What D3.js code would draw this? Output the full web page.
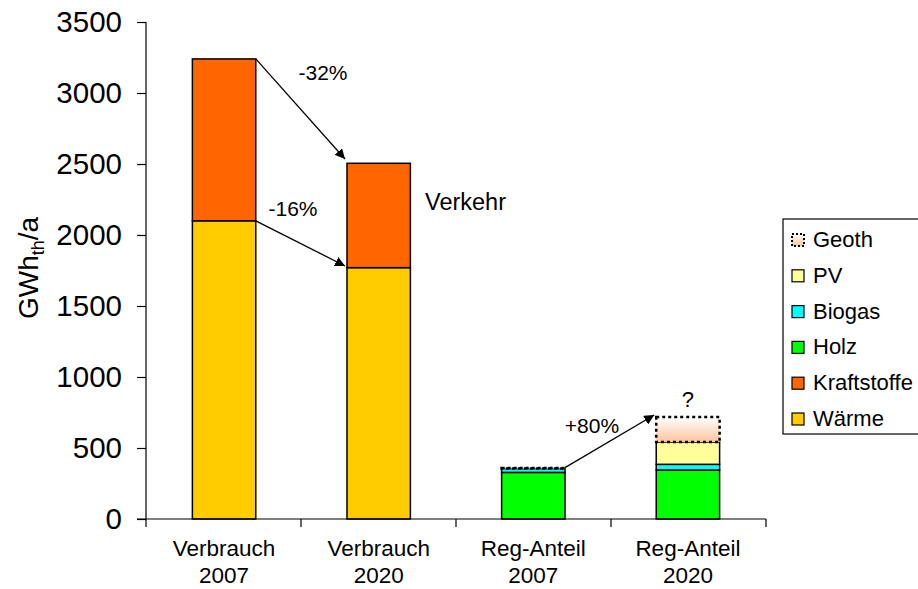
<!DOCTYPE html>
<html><head><meta charset="utf-8">
<script src="https://cdn.jsdelivr.net/npm/d3@7"></script>
<style>body{margin:0;background:#fff;} text{font-family:"Liberation Sans",Arial,sans-serif;}</style>
</head><body><svg id="c" width="918" height="589"></svg>
<script>
const categories = ["Verbrauch\n2007","Verbrauch\n2020","Reg-Anteil\n2007","Reg-Anteil\n2020"];
const seriesNames = ["Wärme","Kraftstoffe","Holz","Biogas","PV","Geoth"];
const waerme      = [2100, 1770, 0, 0];
const kraftstoffe = [1140, 735, 0, 0];
const holz        = [0, 0, 328, 345];
const biogas      = [0, 0, 27, 40];
const pv          = [0, 0, 0, 157];
const geoth       = [0, 0, 5, 176];
const yTicks = [0,500,1000,1500,2000,2500,3000,3500];
const colors = {"Wärme":"#FFCC00","Kraftstoffe":"#FF6600","Holz":"#00FF00","Biogas":"#00FFFF","PV":"#FFFF99","Geoth":"url(#geoGrad)"};
// annotations: [category, value]
const arrowFrom = [[0,3240],[0,2100],[2,362]];
const arrowTo   = [[1,2535],[1,1782],[3,732]];
const arrowLabels = ["-32%","-16%","+80%"];

const svg = d3.select("#c");
const defs = svg.append("defs");
const g0 = defs.append("linearGradient").attr("id","geoGrad").attr("x1",0).attr("y1",0).attr("x2",0).attr("y2",1);
g0.append("stop").attr("offset","0%").attr("stop-color","#ffffff");
g0.append("stop").attr("offset","100%").attr("stop-color","#FBC39C");
defs.append("marker").attr("id","ah").attr("viewBox","0 0 10 10").attr("refX",10).attr("refY",5)
  .attr("markerWidth",10).attr("markerHeight",10).attr("markerUnits","userSpaceOnUse").attr("orient","auto")
  .append("path").attr("d","M0,0L10,5L0,10Z").attr("fill","#000");

const pL=146, pR=766, pT=22, pB=519;
const x = d3.scaleBand().domain(categories).range([pL,pR]).paddingInner(0.59).paddingOuter(0.3);
const y = d3.scaleLinear().domain([0,3500]).range([pB,pT]);

const rows = categories.map((c,i)=>({cat:c,"Wärme":waerme[i],"Kraftstoffe":kraftstoffe[i],"Holz":holz[i],"Biogas":biogas[i],"PV":pv[i],"Geoth":geoth[i]}));
const stack = d3.stack().keys(seriesNames)(rows);

// Bars
stack.forEach(layer=>{
  const key = layer.key;
  svg.append("g").selectAll("rect").data(layer.filter(d=>d[1]-d[0]>0)).join("rect")
    .attr("x",d=>x(d.data.cat)).attr("width",x.bandwidth())
    .attr("y",d=>y(d[1])).attr("height",d=>y(d[0])-y(d[1]))
    .attr("fill",colors[key])
    .attr("stroke",key==="Geoth"?"none":"#000").attr("stroke-width",1.5);
});
// Geoth dotted outline
const geoLayer = stack.find(l=>l.key==="Geoth");
svg.append("g").selectAll("rect").data(geoLayer.filter(d=>d[1]-d[0]>0)).join("rect")
  .attr("x",d=>x(d.data.cat)).attr("width",x.bandwidth())
  .attr("y",d=>y(d[1])).attr("height",d=>y(d[0])-y(d[1]))
  .attr("fill","none").attr("stroke","#000").attr("stroke-width",2.5).attr("stroke-dasharray","3,3");

// Y axis
const yAxis = d3.axisLeft(y).tickValues(yTicks).tickSize(9).tickPadding(15).tickFormat(d3.format("d"));
const ya = svg.append("g").attr("transform",`translate(${pL},0)`).call(yAxis);
ya.select(".domain").attr("stroke","#000").attr("stroke-width",1.2).attr("d",`M0,${pT}V${pB}`);
ya.selectAll(".tick line").attr("stroke","#000").attr("stroke-width",1.2);
ya.selectAll(".tick text").attr("font-size",29.5).attr("fill","#000").attr("font-family","Liberation Sans, Arial, sans-serif");

// X axis baseline & ticks at category boundaries
const bounds = d3.range(categories.length+1).map(i=>pL+i*(pR-pL)/categories.length);
svg.append("line").attr("x1",pL-9).attr("x2",pR).attr("y1",pB).attr("y2",pB).attr("stroke","#000").attr("stroke-width",1.2);
svg.append("g").selectAll("line").data(bounds).join("line")
  .attr("x1",d=>d).attr("x2",d=>d).attr("y1",pB).attr("y2",pB+8).attr("stroke","#000").attr("stroke-width",1.2);
// category labels
categories.forEach(c=>{
  const t = svg.append("text").attr("text-anchor","middle").attr("font-size",22.5).attr("fill","#000");
  c.split("\n").forEach((line,i)=>{
    t.append("tspan").attr("x",x(c)+x.bandwidth()/2).attr("y",556+i*27).text(line);
  });
});

// Y label
const yl = svg.append("text").attr("transform","translate(38,268) rotate(-90)").attr("text-anchor","middle").attr("font-size",28).attr("fill","#000");
yl.append("tspan").text("GWh");
yl.append("tspan").attr("font-size",18).attr("dy",6).text("th");
yl.append("tspan").attr("dy",-6).text("/a");

// Arrows
arrowFrom.forEach((f,i)=>{
  const t = arrowTo[i];
  const x1 = x(categories[f[0]])+x.bandwidth();
  const x2 = x(categories[t[0]])-2;
  svg.append("line").attr("x1",x1).attr("y1",y(f[1])).attr("x2",x2).attr("y2",y(t[1]))
    .attr("stroke","#000").attr("stroke-width",1.3).attr("marker-end","url(#ah)");
});
const labelPos = [[323,80],[293,216],[592,433]];
arrowLabels.forEach((l,i)=>{
  svg.append("text").attr("x",labelPos[i][0]).attr("y",labelPos[i][1]).attr("text-anchor","middle").attr("font-size",21).attr("fill","#000").text(l);
});
svg.append("text").attr("x",x(categories[3])+x.bandwidth()/2).attr("y",407).attr("text-anchor","middle").attr("font-size",22).text("?");
svg.append("text").attr("x",425).attr("y",210).attr("font-size",23.5).text("Verkehr");

// Legend
svg.append("rect").attr("x",783).attr("y",219).attr("width",160).attr("height",215).attr("fill","#fff").attr("stroke","#000").attr("stroke-width",1.2);
const legendOrder = seriesNames.slice().reverse();
legendOrder.forEach((k,i)=>{
  const by = 247 + i*35.8;
  svg.append("rect").attr("x",792).attr("y",by-13).attr("width",12).attr("height",12)
    .attr("fill",colors[k]).attr("stroke","#000").attr("stroke-width",k==="Geoth"?2:1.2)
    .attr("stroke-dasharray",k==="Geoth"?"2,2":null);
  svg.append("text").attr("x",813).attr("y",by).attr("font-size",22).attr("fill","#000").text(k);
});
</script></body></html>
